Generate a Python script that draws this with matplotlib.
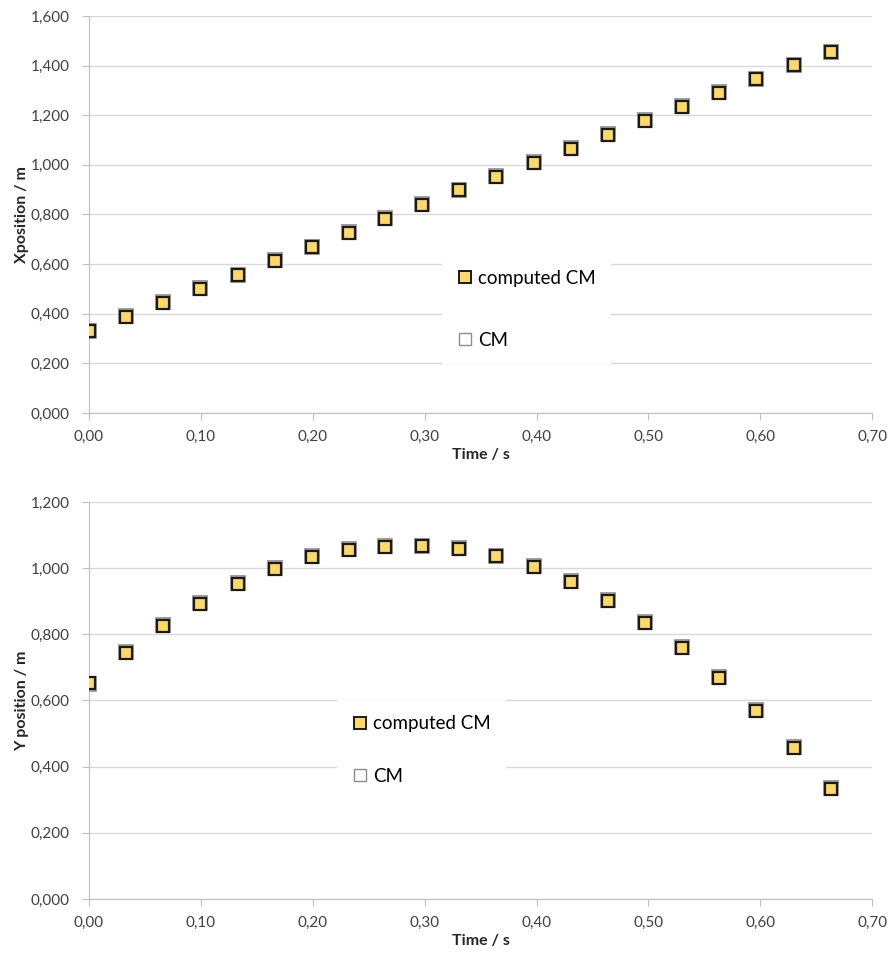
import matplotlib.pyplot as plt
from matplotlib.ticker import FuncFormatter, MultipleLocator
from matplotlib.lines import Line2D

plt.rcParams['font.family'] = ['Lato', 'DejaVu Sans']

# time stamps (s)
time = [0.000, 0.033, 0.066, 0.099, 0.133, 0.166, 0.199, 0.232, 0.265, 0.298, 0.331,
        0.364, 0.398, 0.431, 0.464, 0.497, 0.530, 0.563, 0.596, 0.630, 0.663]

# x position (m)
x_computed = [0.331, 0.387, 0.444, 0.500, 0.556, 0.613, 0.669, 0.726, 0.782, 0.839, 0.897,
              0.952, 1.008, 1.065, 1.121, 1.177, 1.234, 1.290, 1.347, 1.403, 1.455]
x_cm = [0.329, 0.389, 0.446, 0.502, 0.558, 0.615, 0.671, 0.728, 0.784, 0.841, 0.899,
        0.954, 1.010, 1.067, 1.123, 1.179, 1.236, 1.292, 1.345, 1.401, 1.453]

# y position (m)
y_computed = [0.653, 0.744, 0.825, 0.892, 0.952, 0.998, 1.034, 1.055, 1.064, 1.066, 1.058,
              1.036, 1.004, 0.958, 0.901, 0.834, 0.759, 0.668, 0.568, 0.456, 0.333]
y_cm = [0.651, 0.746, 0.827, 0.894, 0.954, 1.000, 1.036, 1.057, 1.066, 1.068, 1.060,
        1.038, 1.006, 0.960, 0.903, 0.836, 0.761, 0.670, 0.570, 0.458, 0.335]

yellow = '#ffd966'

fig = plt.figure(figsize=(8.9, 9.58), dpi=100)
ax1 = fig.add_axes([0.100, 0.5689, 0.880, 0.4144])
ax2 = fig.add_axes([0.100, 0.0616, 0.880, 0.4144])


def style(ax, y, y_ref, ylim, ystep, ylabel, legend_pos, spacing):
    ax.plot(time, y_ref, ls='none', marker='s', ms=10.5, mfc='white', mec='#8c8c8c', mew=1.2, zorder=3)
    ax.plot(time, y, ls='none', marker='s', ms=9, mfc=yellow, mec='#1a1a1a', mew=1.6, zorder=4)
    ax.set_xlim(0, 0.70)
    ax.set_ylim(0, ylim)
    ax.xaxis.set_major_locator(MultipleLocator(0.1))
    ax.yaxis.set_major_locator(MultipleLocator(ystep))
    ax.xaxis.set_major_formatter(FuncFormatter(lambda v, p: f'{v:.2f}'.replace('.', ',')))
    ax.yaxis.set_major_formatter(FuncFormatter(lambda v, p: f'{v:.3f}'.replace('.', ',')))
    ax.grid(axis='y', color='#d9d9d9', lw=1)
    ax.set_axisbelow(True)
    for s in ('top', 'right'):
        ax.spines[s].set_visible(False)
    for s in ('left', 'bottom'):
        ax.spines[s].set_color('#bfbfbf')
    ax.tick_params(colors='#bfbfbf', labelcolor='#404040', labelsize=11, length=5, direction='out')
    ax.tick_params(axis='y', pad=9)
    ax.tick_params(axis='x', pad=7)
    ax.set_xlabel('Time / s', fontsize=11.5, fontweight='bold', color='#262626', labelpad=3)
    ax.set_ylabel(ylabel, fontsize=11.5, fontweight='bold', color='#262626', labelpad=1)
    handles = [
        Line2D([], [], ls='none', marker='s', ms=8, mfc=yellow, mec='#1a1a1a', mew=1.4),
        Line2D([], [], ls='none', marker='s', ms=8, mfc='white', mec='#8c8c8c', mew=1.0),
    ]
    leg = ax.legend(handles, ['computed CM', 'CM'], loc='upper left', bbox_to_anchor=legend_pos,
                    frameon=True, fancybox=False, framealpha=1, edgecolor='white',
                    fontsize=13.5, labelspacing=spacing, handlelength=0.8, handletextpad=0.3,
                    borderpad=0.8, borderaxespad=0)
    leg.get_frame().set_linewidth(0)
    leg.set_zorder(5)


style(ax1, x_computed, x_cm, 1.6, 0.2, 'Xposition / m', (0.451, 0.398), 2.4)
style(ax2, y_computed, y_cm, 1.2, 0.2, 'Y position / m', (0.317, 0.501), 1.9)

fig.savefig('out.png', dpi=100)
